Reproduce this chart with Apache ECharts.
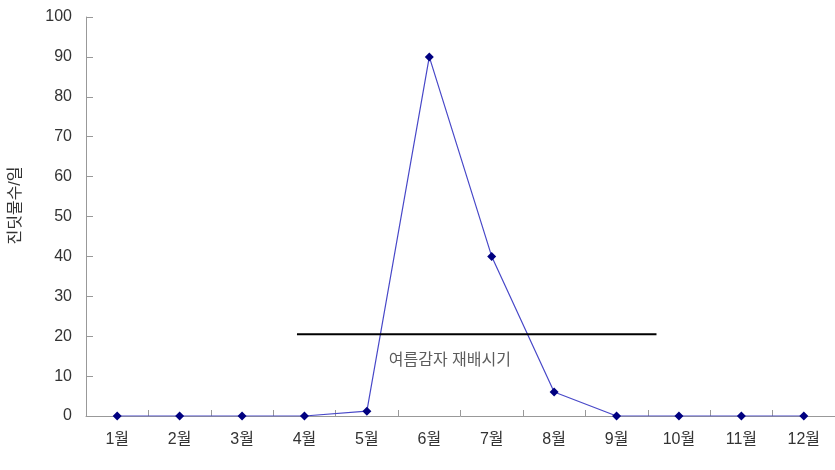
<!DOCTYPE html>
<html><head><meta charset="utf-8">
<script src="https://cdn.jsdelivr.net/npm/echarts@6/dist/echarts.min.js"></script>
<style>html,body{margin:0;padding:0;background:#fff}#c{width:835px;height:470px}</style>
</head><body><div id="c"></div>
<script>
const months = ['1월','2월','3월','4월','5월','6월','7월','8월','9월','10월','11월','12월'];
const aphids = [0, 0, 0, 0, 1.2, 90, 40, 6, 0, 0, 0, 0];
const yTicks = [0,10,20,30,40,50,60,70,80,90,100];
// season bar: start/end position in month-index units, and level
const seasonStart = 2.88, seasonEnd = 8.64, seasonLevel = 20.5;
const seasonLabel = '여름감자 재배시기';
const seasonLabelPos = [5.33, 13.8];
const yName = '진딧물수/일';

const font = "'Liberation Sans','Noto Sans CJK KR',sans-serif";
const chart = echarts.init(document.getElementById('c'));
chart.setOption({
  animation:false,
  backgroundColor:'#fff',
  grid:{left:86,right:-1,top:17,bottom:54,containLabel:false},
  xAxis:[{
    type:'category',data:months,boundaryGap:true,
    axisLine:{onZero:false,lineStyle:{color:'#999',width:1}},
    axisTick:{show:true,inside:true,length:6,lineStyle:{color:'#999'}},
    axisLabel:{margin:16,fontSize:16,color:'#333',fontFamily:font}
  },{
    type:'value',min:-0.5,max:11.5,show:false
  }],
  yAxis:{
    type:'value',min:0,max:100,interval:10,
    name:yName,nameLocation:'middle',nameGap:62,nameRotate:90,
    nameTextStyle:{fontSize:16,color:'#333',fontFamily:font,padding:[0,0,0,22]},
    axisLine:{show:true,onZero:false,lineStyle:{color:'#999'}},
    axisTick:{show:true,inside:true,length:7,lineStyle:{color:'#999'}},
    axisLabel:{margin:14,fontSize:16,color:'#333',fontFamily:font,
      formatter:v=>yTicks.includes(v)?String(v):''},
    splitLine:{show:false}
  },
  series:[{
    type:'line',data:aphids,xAxisIndex:0,
    symbol:'diamond',symbolSize:9,
    lineStyle:{color:'#4848c8',width:1.2},
    itemStyle:{color:'#000080'}
  },{
    type:'line',xAxisIndex:1,
    data:[[seasonStart,seasonLevel],[seasonEnd,seasonLevel]],
    symbol:'none',lineStyle:{color:'#000',width:2}
  },{
    type:'scatter',xAxisIndex:1,symbolSize:0,
    data:[seasonLabelPos],
    label:{show:true,position:'inside',formatter:seasonLabel,fontSize:16,color:'#333',fontFamily:font}
  }]
});
</script></body></html>
